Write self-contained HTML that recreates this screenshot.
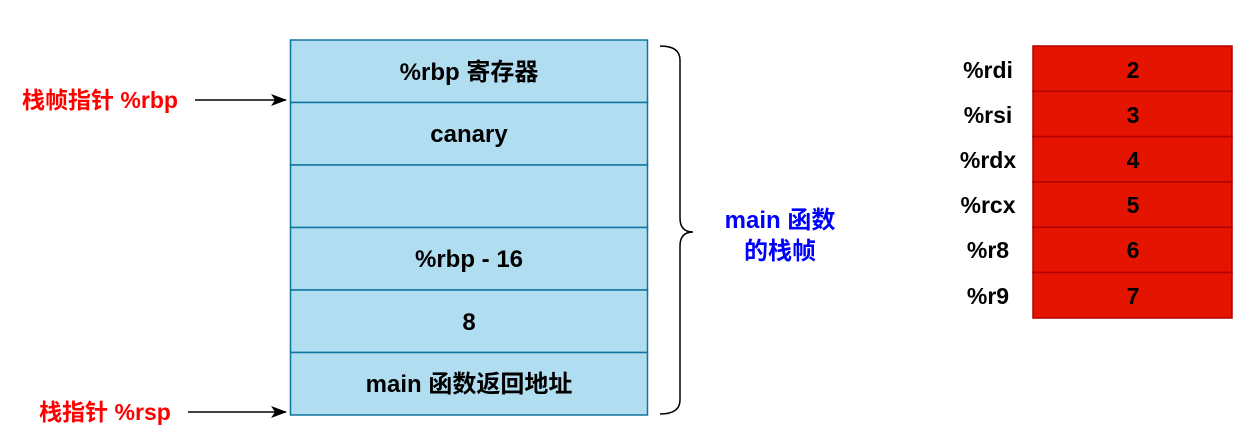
<!DOCTYPE html>
<html><head><meta charset="utf-8"><style>
body{margin:0;background:#fff;}
svg text{font-family:"Liberation Sans","Noto Sans CJK SC",sans-serif;font-weight:bold;}
</style></head><body>
<svg width="1255" height="439" viewBox="0 0 1255 439" xmlns="http://www.w3.org/2000/svg">
<defs><marker id="a" markerWidth="16" markerHeight="12" refX="15" refY="6" orient="auto" markerUnits="userSpaceOnUse"><path d="M0,0 L16,6 L0,12 L4,6 Z" fill="#000"/></marker></defs>
<g fill="#b1ddf0" stroke="#10739e" stroke-width="1.5">
<rect x="290.5" y="40" width="357" height="62.5"/>
<rect x="290.5" y="102.5" width="357" height="62.5"/>
<rect x="290.5" y="165" width="357" height="62.5"/>
<rect x="290.5" y="227.5" width="357" height="62.5"/>
<rect x="290.5" y="290" width="357" height="62.5"/>
<rect x="290.5" y="352.5" width="357" height="62.5"/>
</g>
<g font-size="24" text-anchor="middle" fill="#000">
<text x="469" y="80">%rbp 寄存器</text>
<text x="469" y="142">canary</text>
<text x="469" y="267">%rbp - 16</text>
<text x="469" y="330">8</text>
<text x="469" y="392">main 函数返回地址</text>
</g>
<g fill="#e51400" stroke="#b20000" stroke-width="1.5">
<rect x="1033" y="46" width="199" height="45.3"/>
<rect x="1033" y="91.3" width="199" height="45.3"/>
<rect x="1033" y="136.6" width="199" height="45.3"/>
<rect x="1033" y="181.9" width="199" height="45.3"/>
<rect x="1033" y="227.2" width="199" height="45.3"/>
<rect x="1033" y="272.5" width="199" height="45.5"/>
</g>
<g font-size="23" text-anchor="middle" fill="#000">
<text x="1133" y="78">2</text><text x="1133" y="123">3</text><text x="1133" y="168">4</text>
<text x="1133" y="213">5</text><text x="1133" y="258">6</text><text x="1133" y="304">7</text>
<text x="988" y="78">%rdi</text><text x="988" y="123">%rsi</text><text x="988" y="168">%rdx</text>
<text x="988" y="213">%rcx</text><text x="988" y="258">%r8</text><text x="988" y="304">%r9</text>
</g>
<path d="M660,46 Q680,46 680,60 L680,218 Q680,232 693,232 Q680,232 680,246 L680,400 Q680,414 660,414" fill="none" stroke="#000" stroke-width="1.5"/>
<g font-size="24" text-anchor="middle" fill="#0000ff">
<text x="780" y="228">main 函数</text><text x="780" y="259">的栈帧</text>
</g>
<g font-size="23" fill="#ff0000" text-anchor="middle">
<text x="100" y="108">栈帧指针 %rbp</text>
<text x="105" y="420">栈指针 %rsp</text>
</g>
<line x1="195" y1="100" x2="286" y2="100" stroke="#000" stroke-width="1.5" marker-end="url(#a)"/>
<line x1="188" y1="412" x2="286" y2="412" stroke="#000" stroke-width="1.5" marker-end="url(#a)"/>
</svg>
</body></html>
